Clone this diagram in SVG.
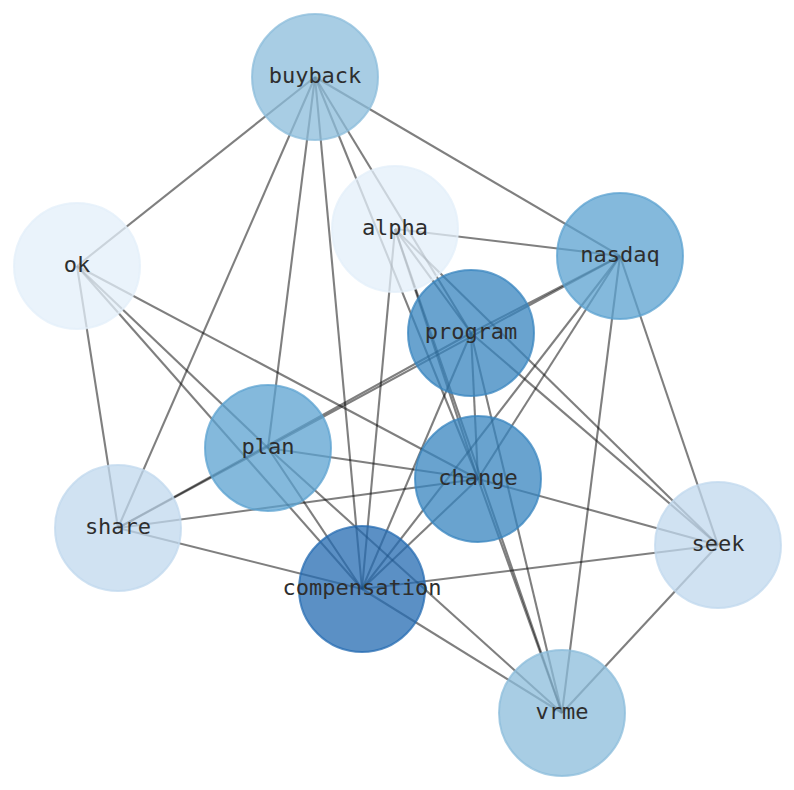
<svg xmlns="http://www.w3.org/2000/svg" width="794" height="790" viewBox="0 0 794 790">
<style>
.e line{stroke:#000;stroke-opacity:0.5;stroke-width:2.1;fill:none}
.n circle{fill-opacity:0.75;stroke-opacity:0.75;stroke-width:2}
.n text{font-family:"DejaVu Sans Mono","Liberation Mono",monospace;font-size:22px;fill:#2e2e2e;text-anchor:middle;dominant-baseline:central}
.c1 circle{fill:#e3effa;stroke:#e3effa}
.c2 circle{fill:#c0d8ee;stroke:#c0d8ee}
.c3 circle{fill:#8bbcdb;stroke:#8bbcdb}
.c4 circle{fill:#5ba2d0;stroke:#5ba2d0}
.c5 circle{fill:#3784bf;stroke:#3784bf}
.c6 circle{fill:#246bb2;stroke:#246bb2}
</style>
<rect width="794" height="790" fill="#fff"/>
<g id="edges" class="e">
<line x1="315" y1="77" x2="77" y2="266"/>
<line x1="315" y1="77" x2="620" y2="256"/>
<line x1="315" y1="77" x2="118" y2="528"/>
<line x1="315" y1="77" x2="268" y2="448"/>
<line x1="315" y1="77" x2="362" y2="589"/>
<line x1="315" y1="77" x2="471" y2="333"/>
<line x1="315" y1="77" x2="478" y2="479"/>
<line x1="395" y1="229" x2="620" y2="256"/>
<line x1="395" y1="229" x2="362" y2="589"/>
<line x1="395" y1="229" x2="478" y2="479"/>
<line x1="395" y1="229" x2="562" y2="713"/>
<line x1="395" y1="229" x2="718" y2="545"/>
<line x1="395" y1="229" x2="471" y2="333"/>
<line x1="77" y1="266" x2="118" y2="528"/>
<line x1="77" y1="266" x2="478" y2="479"/>
<line x1="77" y1="266" x2="268" y2="448"/>
<line x1="77" y1="266" x2="362" y2="589"/>
<line x1="620" y1="256" x2="118" y2="528"/>
<line x1="620" y1="256" x2="471" y2="333"/>
<line x1="620" y1="256" x2="362" y2="589"/>
<line x1="620" y1="256" x2="478" y2="479"/>
<line x1="620" y1="256" x2="562" y2="713"/>
<line x1="620" y1="256" x2="718" y2="545"/>
<line x1="118" y1="528" x2="471" y2="333"/>
<line x1="118" y1="528" x2="478" y2="479"/>
<line x1="118" y1="528" x2="362" y2="589"/>
<line x1="268" y1="448" x2="478" y2="479"/>
<line x1="268" y1="448" x2="362" y2="589"/>
<line x1="268" y1="448" x2="562" y2="713"/>
<line x1="471" y1="333" x2="362" y2="589"/>
<line x1="471" y1="333" x2="478" y2="479"/>
<line x1="471" y1="333" x2="562" y2="713"/>
<line x1="471" y1="333" x2="718" y2="545"/>
<line x1="478" y1="479" x2="362" y2="589"/>
<line x1="478" y1="479" x2="718" y2="545"/>
<line x1="478" y1="479" x2="562" y2="713"/>
<line x1="362" y1="589" x2="718" y2="545"/>
<line x1="362" y1="589" x2="562" y2="713"/>
<line x1="718" y1="545" x2="562" y2="713"/>
</g>
<g id="node-buyback" class="n c3"><circle cx="315" cy="77" r="63"/><text x="315" y="75.5">buyback</text></g>
<g id="node-alpha" class="n c1"><circle cx="395" cy="229" r="63"/><text x="395" y="227.5">alpha</text></g>
<g id="node-ok" class="n c1"><circle cx="77" cy="266" r="63"/><text x="77" y="264.5">ok</text></g>
<g id="node-nasdaq" class="n c4"><circle cx="620" cy="256" r="63"/><text x="620" y="254.5">nasdaq</text></g>
<g id="node-program" class="n c5"><circle cx="471" cy="333" r="63"/><text x="471" y="331.5">program</text></g>
<g id="node-plan" class="n c4"><circle cx="268" cy="448" r="63"/><text x="268" y="446.5">plan</text></g>
<g id="node-change" class="n c5"><circle cx="478" cy="479" r="63"/><text x="478" y="477.5">change</text></g>
<g id="node-share" class="n c2"><circle cx="118" cy="528" r="63"/><text x="118" y="526.5">share</text></g>
<g id="node-seek" class="n c2"><circle cx="718" cy="545" r="63"/><text x="718" y="543.5">seek</text></g>
<g id="node-compensation" class="n c6"><circle cx="362" cy="589" r="63"/><text x="362" y="587.5">compensation</text></g>
<g id="node-vrme" class="n c3"><circle cx="562" cy="713" r="63"/><text x="562" y="711.5">vrme</text></g>
</svg>
